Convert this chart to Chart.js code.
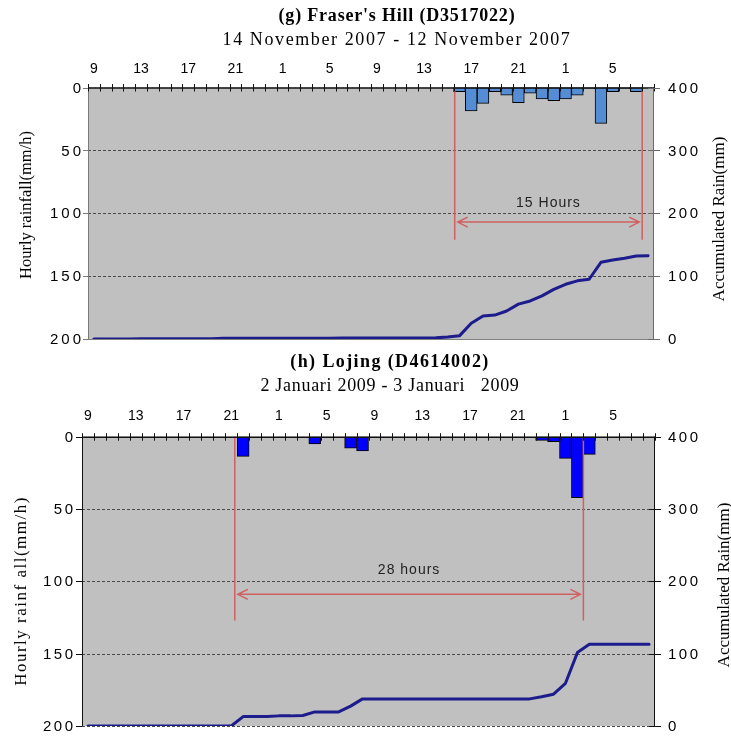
<!DOCTYPE html>
<html><head><meta charset="utf-8">
<script src="https://cdn.jsdelivr.net/npm/chart.js@4/dist/chart.umd.min.js"></script>
<style>
html,body{margin:0;padding:0;background:#fff;width:731px;height:736px;overflow:hidden}
canvas{position:absolute;left:0;display:block}
#c1{top:0}
#c2{top:350px}
</style></head><body>
<canvas id="c1" width="731" height="350"></canvas>
<canvas id="c2" width="731" height="386"></canvas>
<script>
// ---- categories (hour of day, 48 hourly steps) ----
const HOURS = ['9','10','11','12','13','14','15','16','17','18','19','20','21','22','23',
  '0','1','2','3','4','5','6','7','8','9','10','11','12','13','14','15','16','17','18','19','20','21','22','23',
  '0','1','2','3','4','5','6','7','8'];

// ---- (g) Fraser's Hill : hourly rainfall (mm/h) ----
const fraserRain = [null,null,null,null,null,null,null,null,null,null,
  null,null,null,null,null,null,null,null,null,null,
  null,null,null,null,null,null,null,null,null,null,
  null,3.3,18.7,12.6,3.3,6,12,4.6,9.1,10.5,
  9.1,6,1,28.5,3.3,1,3.3,null];
// accumulated rain (mm)
const fraserAccum = [0,0,0,0,0.5,0.5,0.5,0.5,0.5,0.5,
  0.5,1,1,1,1,1,1,1,1,1,
  1,1.5,1.5,1.5,1.5,1.5,1.5,1.5,1.5,2,
  3,5,25,36.5,38,44.5,55.5,60.5,68.5,79,
  87,92.5,95,122,125.5,128.5,132,132.5];

// ---- (h) Lojing : hourly rainfall (mm/h) ----
const lojingRain = [null,null,null,null,null,null,null,null,null,null,
  null,null,null,13.6,null,null,null,null,null,5,
  null,null,8,9.9,null,null,null,null,null,null,
  null,null,null,null,null,null,null,null,2.5,3.5,
  15,42.2,12.2,null,null,null,null,null];
// accumulated rain (mm)
const lojingAccum = [0,0,0,0,0,0,0,0,0,0,
  0,0,0,13,13,13,14,14,14.5,19.5,
  19.5,19.5,27.5,37.5,37.5,37.5,37.5,37.5,37.5,37.5,
  37.5,37.5,37.5,37.5,37.5,37.5,37.5,37.5,40.5,44,
  59,101.5,113,113,113,113,113,113];

const LEFT_TICKS_MAX = 200, RIGHT_TICKS_MAX = 400;

const decor = {
  id: 'decor',
  beforeDraw(chart, args, o) {
    const {ctx, chartArea: a} = chart;
    ctx.save();
    ctx.fillStyle = '#fff';
    ctx.fillRect(0, 0, chart.width, chart.height);
    ctx.fillStyle = '#C0C0C0';
    ctx.fillRect(a.left, a.top, a.right - a.left, a.bottom - a.top);
    ctx.restore();
  },
  beforeDatasetsDraw(chart, args, o) {
    const {ctx, chartArea: a} = chart;
    const y = chart.scales.y;
    ctx.save();
    ctx.lineWidth = 1;
    y.ticks.forEach((t, i) => {
      if (t.value === 0) return;
      const py = Math.round(y.getPixelForTick(i)) + 0.5;
      if (t.value === LEFT_TICKS_MAX && o.solidBottom) {
        ctx.setLineDash([]); ctx.strokeStyle = '#808080';
      } else {
        ctx.setLineDash([3, 2]); ctx.strokeStyle = '#4a4a4a';
      }
      ctx.beginPath(); ctx.moveTo(a.left, py); ctx.lineTo(a.right, py); ctx.stroke();
    });
    ctx.restore();
  },
  afterDatasetsDraw(chart, args, o) {
    const {ctx, chartArea: a} = chart;
    const x = chart.scales.x, y = chart.scales.y, y2 = chart.scales.y2;
    const bx = b => x.getPixelForValue(b - 0.5);
    ctx.save();
    // annotation (red span marks)
    const an = o.span;
    const x1 = bx(an.from), x2 = bx(an.to);
    ctx.strokeStyle = '#D06060';
    ctx.lineWidth = 1.5;
    ctx.beginPath();
    ctx.moveTo(x1, y.getPixelForValue(0)); ctx.lineTo(x1, y.getPixelForValue(an.bottom));
    ctx.moveTo(x2, y.getPixelForValue(0)); ctx.lineTo(x2, y.getPixelForValue(an.bottom));
    const ay = y.getPixelForValue(an.arrowY);
    const l = x1 + 3, r = x2 - 3;
    ctx.moveTo(l, ay); ctx.lineTo(r, ay);
    ctx.moveTo(l + 10, ay - 5); ctx.lineTo(l, ay); ctx.lineTo(l + 10, ay + 5);
    ctx.moveTo(r - 10, ay - 5); ctx.lineTo(r, ay); ctx.lineTo(r - 10, ay + 5);
    ctx.stroke();
    ctx.fillStyle = '#222';
    ctx.font = '14px "Liberation Sans", Arial, sans-serif';
    ctx.letterSpacing = '1px';
    ctx.textAlign = 'center'; ctx.textBaseline = 'middle';
    ctx.fillText(an.text, (x1 + x2) / 2, y.getPixelForValue(an.textY));
    ctx.letterSpacing = '0px';

    // axis lines
    ctx.lineWidth = 1;
    ctx.strokeStyle = o.leftColor;
    ctx.beginPath(); ctx.moveTo(a.left + 0.5, a.top); ctx.lineTo(a.left + 0.5, a.bottom); ctx.stroke();
    ctx.strokeStyle = o.rightColor;
    ctx.beginPath(); ctx.moveTo(a.right - 0.5, a.top); ctx.lineTo(a.right - 0.5, a.bottom); ctx.stroke();
    ctx.strokeStyle = '#111';
    ctx.lineWidth = 1.5;
    ctx.beginPath(); ctx.moveTo(a.left, a.top + 0.5); ctx.lineTo(a.right, a.top + 0.5); ctx.stroke();
    // x tick marks crossing the axis at category boundaries
    ctx.lineWidth = 1;
    ctx.beginPath();
    for (let i = 0; i <= HOURS.length; i++) {
      const px = Math.round(bx(i)) + 0.5;
      ctx.moveTo(px, a.top - 3.5); ctx.lineTo(px, a.top + 4);
    }
    ctx.stroke();
    // y tick marks
    ctx.strokeStyle = o.leftColor;
    ctx.beginPath();
    y.ticks.forEach((t, i) => {
      const py = Math.round(y.getPixelForTick(i)) + 0.5;
      ctx.moveTo(a.left - o.leftTick, py); ctx.lineTo(a.left, py);
    });
    ctx.stroke();
    ctx.strokeStyle = o.rightColor;
    ctx.beginPath();
    y2.ticks.forEach((t, i) => {
      const py = Math.round(y2.getPixelForTick(i)) + 0.5;
      ctx.moveTo(a.right - 6, py); ctx.lineTo(a.right + 6, py);
    });
    ctx.stroke();

    // y tick labels
    ctx.fillStyle = '#000';
    ctx.font = '15px "Liberation Sans", Arial, sans-serif';
    ctx.textBaseline = 'middle';
    ctx.textAlign = 'left';
    ctx.letterSpacing = o.leftLS + 'px';
    y.ticks.forEach((t, i) => {
      const s = String(t.value);
      const w = ctx.measureText(s).width - o.leftLS;
      ctx.fillText(s, o.leftLabelRight - w, y.getPixelForTick(i) + 1);
    });
    ctx.letterSpacing = o.rightLS + 'px';
    y2.ticks.forEach((t, i) => {
      ctx.fillText(String(t.value), o.rightLabelLeft, y2.getPixelForTick(i) + 1);
    });
    ctx.letterSpacing = '0px';

    // axis titles
    const vtext = (text, tx, ty, size, ls) => {
      ctx.save();
      ctx.translate(tx, ty); ctx.rotate(-Math.PI / 2);
      ctx.font = size + 'px "Liberation Serif", "Times New Roman", serif';
      ctx.letterSpacing = ls + 'px';
      ctx.textAlign = 'center'; ctx.textBaseline = 'middle';
      ctx.fillStyle = '#000';
      ctx.fillText(text, 0, 0);
      ctx.restore();
    };
    vtext(o.leftTitle, o.leftTitleX, o.leftTitleY, o.leftTitleSize, o.leftTitleLS);
    vtext(o.rightTitle, o.rightTitleX, o.rightTitleY, 17, 0);

    // chart titles
    ctx.fillStyle = '#000';
    ctx.textAlign = 'center'; ctx.textBaseline = 'middle';
    ctx.font = 'bold 18px "Liberation Serif", "Times New Roman", serif';
    ctx.letterSpacing = o.titleLS + 'px';
    ctx.fillText(o.title, o.titleX, o.titleY);
    ctx.font = '18px "Liberation Serif", "Times New Roman", serif';
    ctx.letterSpacing = o.subLS + 'px';
    ctx.fillText(o.subtitle, o.titleX, o.subY);
    ctx.letterSpacing = '0px';
    ctx.restore();
  }
};

function build(id, cfg) {
  return new Chart(document.getElementById(id), {
    type: 'bar',
    data: {
      labels: HOURS,
      datasets: [
        { type: 'line', data: cfg.accum, yAxisID: 'y2', borderColor: '#1C1C8C', borderWidth: 3,
          pointRadius: 0, tension: 0, order: 0, borderJoinStyle: 'round', borderCapStyle: 'round' },
        { type: 'bar', data: cfg.rain, yAxisID: 'y', backgroundColor: cfg.barColor, borderColor: '#000',
          borderWidth: 1, borderSkipped: false, barPercentage: 1, categoryPercentage: 1, order: 1 }
      ]
    },
    options: {
      responsive: false, animation: false, devicePixelRatio: 1,
      layout: { padding: { top: 0, bottom: cfg.padBottom, left: 0, right: 0 } },
      plugins: { legend: { display: false }, tooltip: { enabled: false }, title: { display: false },
        decor: cfg.decor },
      scales: {
        x: { type: 'category', position: 'top', offset: true,
          grid: { display: false }, border: { display: false },
          ticks: { autoSkip: false, maxRotation: 0, minRotation: 0, padding: cfg.xPad, color: '#000',
            font: { family: '"Liberation Sans", Arial, sans-serif', size: 14 },
            callback: (v, i) => (i % 4 === 0 ? HOURS[i] : '') },
          afterFit: s => { s.height = cfg.top; } },
        y: { position: 'left', min: 0, max: LEFT_TICKS_MAX, reverse: true,
          ticks: { display: false, stepSize: 50 }, grid: { display: false }, border: { display: false },
          afterFit: s => { s.width = cfg.left; } },
        y2: { position: 'right', min: 0, max: RIGHT_TICKS_MAX,
          ticks: { display: false, stepSize: 100 }, grid: { display: false }, border: { display: false },
          afterFit: s => { s.width = cfg.right; } }
      }
    },
    plugins: [decor]
  });
}

build('c1', {
  rain: fraserRain, accum: fraserAccum, barColor: '#548DD4',
  top: 87.5, left: 88, right: 77, padBottom: 11, xPad: 2,
  decor: {
    span: { from: 31.1, to: 47, bottom: 121, arrowY: 107, textY: 92, text: '15 Hours' },
    solidBottom: true, leftColor: '#7a7a7a', rightColor: '#6a6a6a', leftTick: 5,
    leftLS: 3, rightLS: 2.5, leftLabelRight: 81, rightLabelLeft: 668,
    leftTitle: 'Hourly rainfall(mm/h)', leftTitleX: 27, leftTitleY: 205, leftTitleSize: 16.5, leftTitleLS: 0,
    rightTitle: 'Accumulated Rain(mm)', rightTitleX: 720, rightTitleY: 219,
    title: "(g) Fraser's Hill (D3517022)", subtitle: '14 November 2007 - 12 November 2007',
    titleX: 397, titleY: 16, subY: 40, titleLS: 0.8, subLS: 1.6
  }
});

build('c2', {
  rain: lojingRain, accum: lojingAccum, barColor: '#0000FF',
  top: 86.7, left: 82, right: 76, padBottom: 10, xPad: 4.3,
  decor: {
    span: { from: 12.8, to: 42, bottom: 127, arrowY: 109, textY: 92, text: '28 hours' },
    solidBottom: false, leftColor: '#111', rightColor: '#111', leftTick: 6,
    leftLS: 2.5, rightLS: 2.5, leftLabelRight: 73, rightLabelLeft: 668,
    leftTitle: 'Hourly rainf all(mm/h)', leftTitleX: 22, leftTitleY: 241, leftTitleSize: 17, leftTitleLS: 1.5,
    rightTitle: 'Accumulated Rain(mm)', rightTitleX: 725, rightTitleY: 235,
    title: '(h) Lojing (D4614002)', subtitle: '2 Januari 2009 - 3 Januari   2009',
    titleX: 390, titleY: 12, subY: 36, titleLS: 1.4, subLS: 0.7
  }
});
</script>
</body></html>
